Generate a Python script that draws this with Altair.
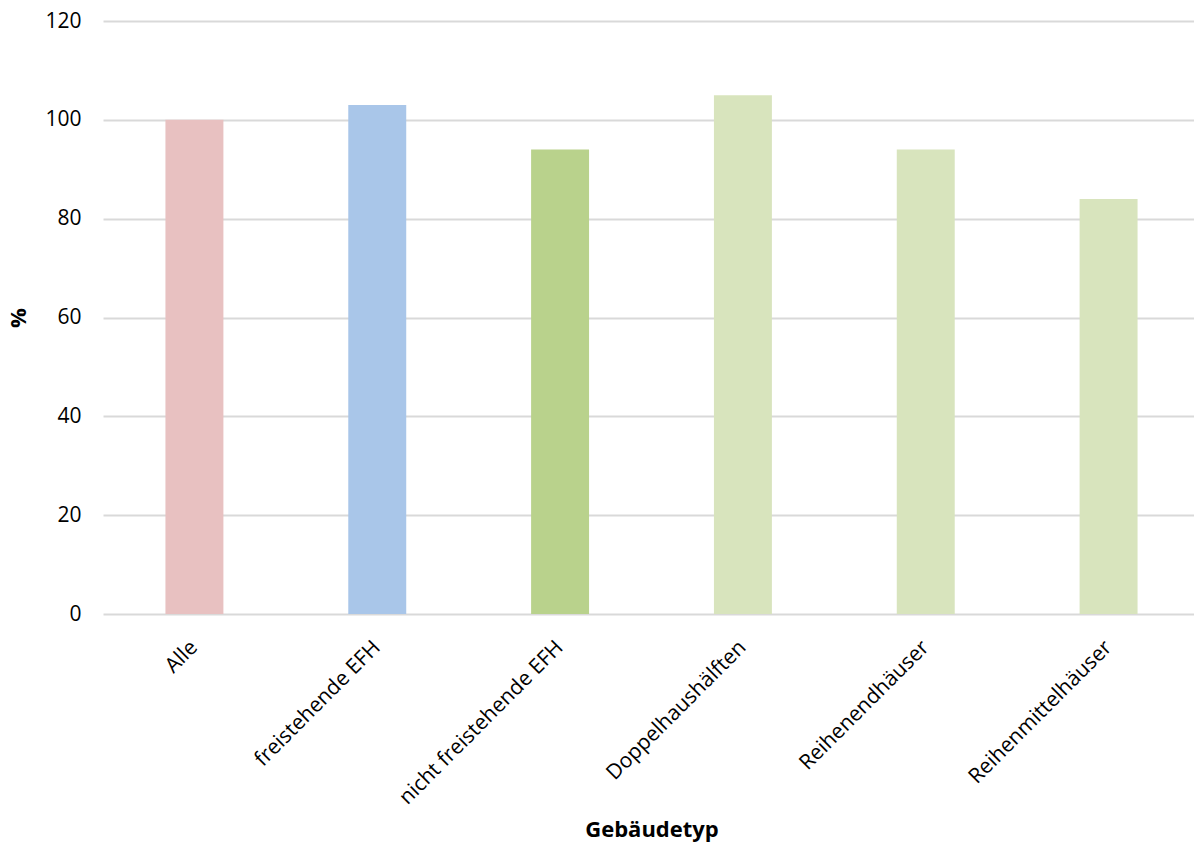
import altair as alt
import pandas as pd

categories = ["Alle", "freistehende EFH", "nicht freistehende EFH",
              "Doppelhaushälften", "Reihenendhäuser", "Reihenmittelhäuser"]
values = [100, 103, 94, 105, 94, 84]
colors = ["#E8C1C1", "#A9C6E9", "#B9D28C", "#D8E4BD", "#D8E4BD", "#D8E4BD"]

df = pd.DataFrame({"typ": categories, "wert": values, "farbe": colors})

FONT = "Open Sans"

chart = alt.Chart(df).mark_bar().encode(
    x=alt.X("typ:N", sort=categories, title="Gebäudetyp",
            scale=alt.Scale(paddingInner=0.683, paddingOuter=0.3415, range=[0, 1097]),
            axis=alt.Axis(labelAngle=-45, labelAlign="right", labelBaseline="middle",
                          labelPadding=30, labelLimit=400, ticks=False, domain=False,
                          labelFontSize=21, labelColor="#000000", labelFont=FONT,
                          titleFontSize=22, titleFont=FONT, titleFontWeight="bold",
                          titleColor="#000000", titlePadding=12)),
    y=alt.Y("wert:Q", title="%",
            scale=alt.Scale(domain=[0, 120], nice=False),
            axis=alt.Axis(values=[0, 20, 40, 60, 80, 100, 120], ticks=False, domain=False,
                          gridColor="#D9D9D9", gridWidth=2,
                          labelFontSize=21, labelColor="#000000", labelFont=FONT,
                          labelPadding=22,
                          titleFontSize=22, titleFont=FONT, titleFontWeight="bold",
                          titleColor="#000000", titlePadding=14)),
    color=alt.Color("farbe:N", scale=None),
).properties(
    width=1091, height=593,
    autosize=alt.AutoSizeParams(type="none"),
    padding={"left": 103, "top": 21, "right": 0, "bottom": 236},
).configure(background="#FFFFFF").configure_view(stroke=None, strokeWidth=0)

chart.save("out.html", embed_options={"renderer": "svg", "actions": False})
